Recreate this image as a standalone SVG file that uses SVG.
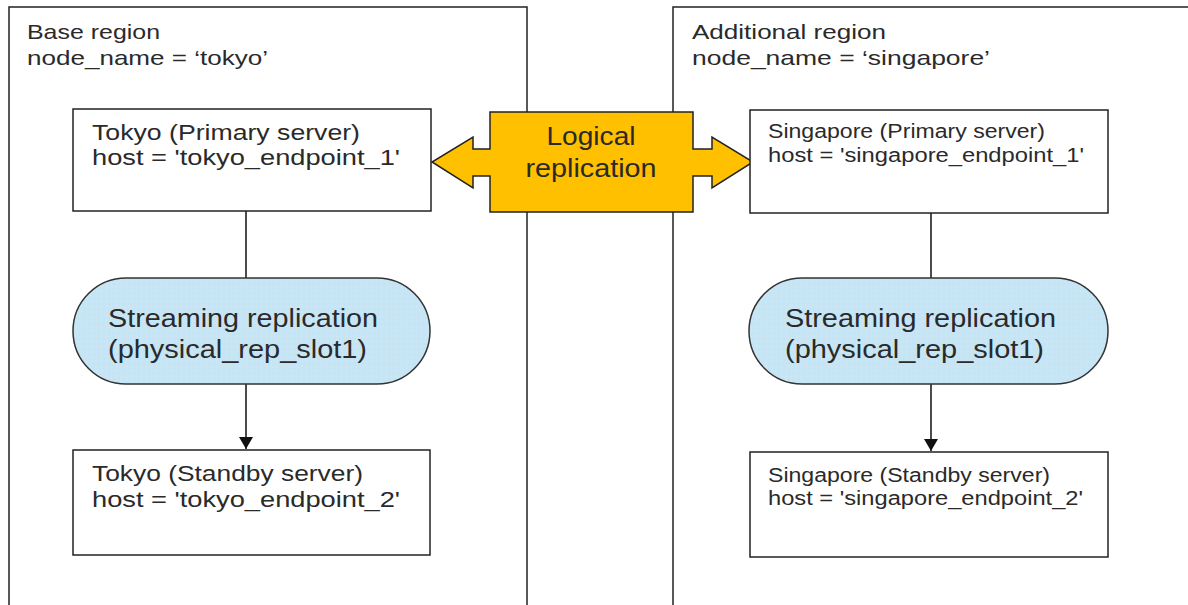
<svg xmlns="http://www.w3.org/2000/svg" width="1188" height="605" viewBox="0 0 1188 605">
<defs>
<style>
.region{fill:#fff;stroke:#222;stroke-width:1.5}
.box{fill:#fff;stroke:#222;stroke-width:1.5}
.pill{fill:url(#dots);stroke:#333;stroke-width:1.5}
.conn{fill:none;stroke:#111;stroke-width:1.5}
.t{font-family:"Liberation Sans",Arial,sans-serif;fill:#2a2a2a}
.t21{font-size:21px}
.t22{font-size:22px}
.t20{font-size:20px}
.t25{font-size:25px}
</style>
<pattern id="dots" width="5" height="5" patternUnits="userSpaceOnUse">
<rect width="5" height="5" fill="#c7e6f5"/>
<rect x="1" y="1" width="1" height="1" fill="#d9e4ee"/>
<rect x="3.5" y="3.5" width="1" height="1" fill="#bfdcec"/>
</pattern>
<marker id="arr" markerWidth="13" markerHeight="14" refX="12" refY="7" orient="auto" markerUnits="userSpaceOnUse">
<path d="M0,0 L12,7 L0,14 Z" fill="#111"/>
</marker>
</defs>
<rect width="1188" height="605" fill="#fff"/>

<g id="base-region">
<rect class="region" x="9" y="7" width="518" height="610"/>
<text class="t t21" x="27" y="39" textLength="133" lengthAdjust="spacingAndGlyphs">Base region</text>
<text class="t t21" x="27" y="65" textLength="241" lengthAdjust="spacingAndGlyphs">node_name = ‘tokyo’</text>
</g>

<g id="additional-region">
<rect class="region" x="673" y="7" width="530" height="610"/>
<text class="t t21" x="692" y="39" textLength="194" lengthAdjust="spacingAndGlyphs">Additional region</text>
<text class="t t21" x="692" y="65" textLength="298" lengthAdjust="spacingAndGlyphs">node_name = ‘singapore’</text>
</g>

<g id="connectors">
<line class="conn" x1="246" y1="211" x2="246" y2="278"/>
<line class="conn" x1="246" y1="384" x2="246" y2="449" marker-end="url(#arr)"/>
<line class="conn" x1="931" y1="213" x2="931" y2="278"/>
<line class="conn" x1="931" y1="384" x2="931" y2="451" marker-end="url(#arr)"/>
</g>

<g id="tokyo-primary">
<rect class="box" x="73" y="109" width="358" height="102"/>
<text class="t t22" x="92" y="140" textLength="268" lengthAdjust="spacingAndGlyphs">Tokyo (Primary server)</text>
<text class="t t22" x="92" y="165" textLength="308" lengthAdjust="spacingAndGlyphs">host = 'tokyo_endpoint_1'</text>
</g>

<g id="tokyo-streaming">
<rect class="pill" x="73" y="278" width="357" height="106" rx="53" ry="53"/>
<text class="t t25" x="108" y="327" textLength="270" lengthAdjust="spacingAndGlyphs">Streaming replication</text>
<text class="t t25" x="108" y="358" textLength="259" lengthAdjust="spacingAndGlyphs">(physical_rep_slot1)</text>
</g>

<g id="tokyo-standby">
<rect class="box" x="73" y="450" width="357" height="105"/>
<text class="t t22" x="92" y="481" textLength="271" lengthAdjust="spacingAndGlyphs">Tokyo (Standby server)</text>
<text class="t t22" x="92" y="507" textLength="308" lengthAdjust="spacingAndGlyphs">host = 'tokyo_endpoint_2'</text>
</g>

<g id="logical-replication">
<path d="M490,112 L693,112 L693,149 L712,149 L712,137 L753,162 L712,188 L712,176 L693,176 L693,212 L490,212 L490,176 L473,176 L473,188 L432,162 L473,137 L473,149 L490,149 Z" fill="#ffc000" stroke="#222" stroke-width="1.5" stroke-linejoin="miter"/>
<text class="t t25" x="591" y="145" text-anchor="middle" textLength="89" lengthAdjust="spacingAndGlyphs">Logical</text>
<text class="t t25" x="591" y="177" text-anchor="middle" textLength="131" lengthAdjust="spacingAndGlyphs">replication</text>
</g>

<g id="singapore-primary">
<rect class="box" x="750" y="110" width="358" height="103"/>
<text class="t t20" x="768" y="138" textLength="277" lengthAdjust="spacingAndGlyphs">Singapore (Primary server)</text>
<text class="t t20" x="768" y="162" textLength="316" lengthAdjust="spacingAndGlyphs">host = 'singapore_endpoint_1'</text>
</g>

<g id="singapore-streaming">
<rect class="pill" x="749" y="278" width="359" height="106" rx="53" ry="53"/>
<text class="t t25" x="785" y="327" textLength="271" lengthAdjust="spacingAndGlyphs">Streaming replication</text>
<text class="t t25" x="785" y="358" textLength="259" lengthAdjust="spacingAndGlyphs">(physical_rep_slot1)</text>
</g>

<g id="singapore-standby">
<rect class="box" x="750" y="452" width="358" height="105"/>
<text class="t t20" x="768" y="482" textLength="282" lengthAdjust="spacingAndGlyphs">Singapore (Standby server)</text>
<text class="t t20" x="768" y="505" textLength="315" lengthAdjust="spacingAndGlyphs">host = 'singapore_endpoint_2'</text>
</g>
</svg>
